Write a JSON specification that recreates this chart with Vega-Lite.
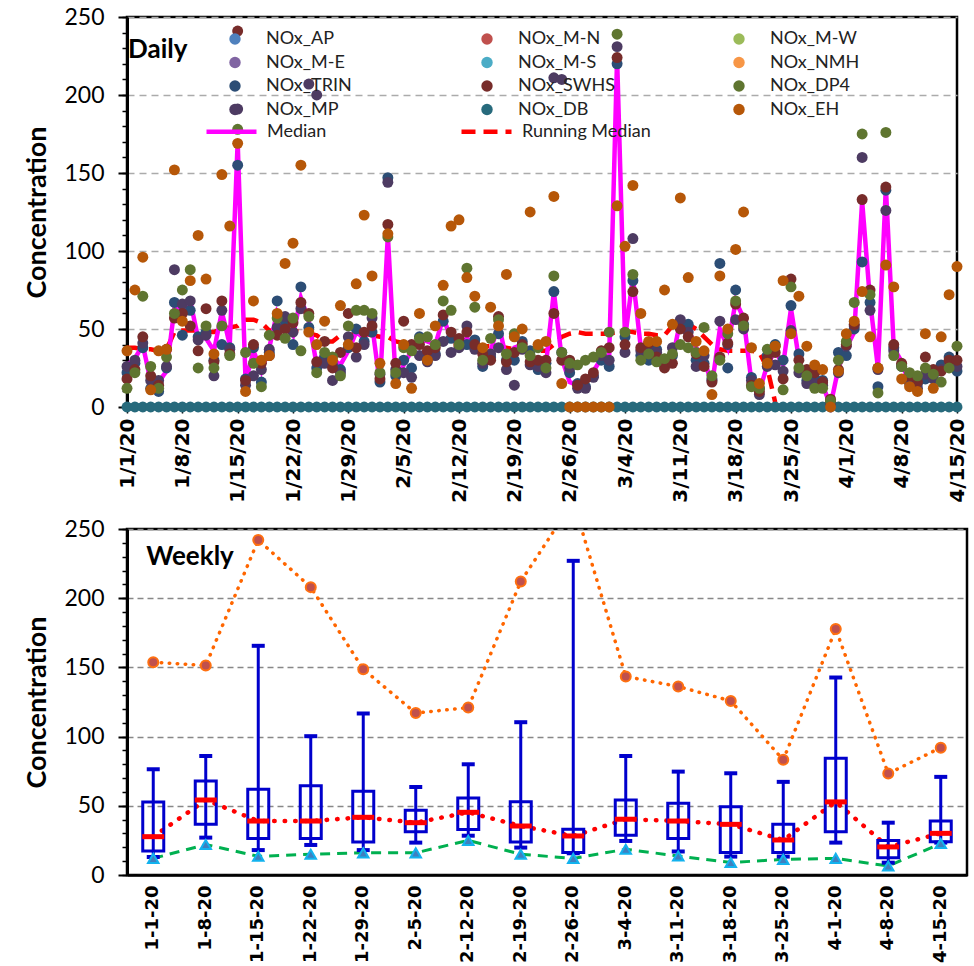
{
"$schema":"https://vega.github.io/schema/vega-lite/v6.json",
"background":"white",
"padding":{"left":22,"top":4,"right":10,"bottom":0},
"spacing":12,
"config":{
 "view":{"stroke":"black","strokeWidth":2.5},
 "axis":{"labelFont":"Lato","titleFont":"Lato","labelColor":"black","titleColor":"black","domainColor":"black","tickColor":"black"}
},
"datasets":{
"pts":[
{"d":"2020/01/01","s":"NOx_DB","v":0},{"d":"2020/01/02","s":"NOx_DB","v":0},{"d":"2020/01/03","s":"NOx_DB","v":0},{"d":"2020/01/04","s":"NOx_DB","v":0},{"d":"2020/01/05","s":"NOx_DB","v":0},{"d":"2020/01/06","s":"NOx_DB","v":0},{"d":"2020/01/07","s":"NOx_DB","v":0},{"d":"2020/01/08","s":"NOx_DB","v":0},{"d":"2020/01/09","s":"NOx_DB","v":0},{"d":"2020/01/10","s":"NOx_DB","v":0},{"d":"2020/01/11","s":"NOx_DB","v":0},{"d":"2020/01/12","s":"NOx_DB","v":0},{"d":"2020/01/13","s":"NOx_DB","v":0},{"d":"2020/01/14","s":"NOx_DB","v":0},{"d":"2020/01/15","s":"NOx_DB","v":0},{"d":"2020/01/16","s":"NOx_DB","v":0},{"d":"2020/01/17","s":"NOx_DB","v":0},{"d":"2020/01/18","s":"NOx_DB","v":0},{"d":"2020/01/19","s":"NOx_DB","v":0},{"d":"2020/01/20","s":"NOx_DB","v":0},{"d":"2020/01/21","s":"NOx_DB","v":0},{"d":"2020/01/22","s":"NOx_DB","v":0},{"d":"2020/01/23","s":"NOx_DB","v":0},{"d":"2020/01/24","s":"NOx_DB","v":0},{"d":"2020/01/25","s":"NOx_DB","v":0},{"d":"2020/01/26","s":"NOx_DB","v":0},{"d":"2020/01/27","s":"NOx_DB","v":0},{"d":"2020/01/28","s":"NOx_DB","v":0},{"d":"2020/01/29","s":"NOx_DB","v":0},{"d":"2020/01/30","s":"NOx_DB","v":0},{"d":"2020/01/31","s":"NOx_DB","v":0},
{"d":"2020/02/01","s":"NOx_DB","v":0},{"d":"2020/02/02","s":"NOx_DB","v":0},{"d":"2020/02/03","s":"NOx_DB","v":0},{"d":"2020/02/04","s":"NOx_DB","v":0},{"d":"2020/02/05","s":"NOx_DB","v":0},{"d":"2020/02/06","s":"NOx_DB","v":0},{"d":"2020/02/07","s":"NOx_DB","v":0},{"d":"2020/02/08","s":"NOx_DB","v":0},{"d":"2020/02/09","s":"NOx_DB","v":0},{"d":"2020/02/10","s":"NOx_DB","v":0},{"d":"2020/02/11","s":"NOx_DB","v":0},{"d":"2020/02/12","s":"NOx_DB","v":0},{"d":"2020/02/13","s":"NOx_DB","v":0},{"d":"2020/02/14","s":"NOx_DB","v":0},{"d":"2020/02/15","s":"NOx_DB","v":0},{"d":"2020/02/16","s":"NOx_DB","v":0},{"d":"2020/02/17","s":"NOx_DB","v":0},{"d":"2020/02/18","s":"NOx_DB","v":0},{"d":"2020/02/19","s":"NOx_DB","v":0},{"d":"2020/02/20","s":"NOx_DB","v":0},{"d":"2020/02/21","s":"NOx_DB","v":0},{"d":"2020/02/22","s":"NOx_DB","v":0},{"d":"2020/02/23","s":"NOx_DB","v":0},{"d":"2020/02/24","s":"NOx_DB","v":0},{"d":"2020/02/25","s":"NOx_DB","v":0},{"d":"2020/02/26","s":"NOx_DB","v":0},{"d":"2020/02/27","s":"NOx_DB","v":0},{"d":"2020/02/28","s":"NOx_DB","v":0},{"d":"2020/02/29","s":"NOx_DB","v":0},
{"d":"2020/03/01","s":"NOx_DB","v":0},{"d":"2020/03/02","s":"NOx_DB","v":0},{"d":"2020/03/03","s":"NOx_DB","v":0},{"d":"2020/03/04","s":"NOx_DB","v":0},{"d":"2020/03/05","s":"NOx_DB","v":0},{"d":"2020/03/06","s":"NOx_DB","v":0},{"d":"2020/03/07","s":"NOx_DB","v":0},{"d":"2020/03/08","s":"NOx_DB","v":0},{"d":"2020/03/09","s":"NOx_DB","v":0},{"d":"2020/03/10","s":"NOx_DB","v":0},{"d":"2020/03/11","s":"NOx_DB","v":0},{"d":"2020/03/12","s":"NOx_DB","v":0},{"d":"2020/03/13","s":"NOx_DB","v":0},{"d":"2020/03/14","s":"NOx_DB","v":0},{"d":"2020/03/15","s":"NOx_DB","v":0},{"d":"2020/03/16","s":"NOx_DB","v":0},{"d":"2020/03/17","s":"NOx_DB","v":0},{"d":"2020/03/18","s":"NOx_DB","v":0},{"d":"2020/03/19","s":"NOx_DB","v":0},{"d":"2020/03/20","s":"NOx_DB","v":0},{"d":"2020/03/21","s":"NOx_DB","v":0},{"d":"2020/03/22","s":"NOx_DB","v":0},{"d":"2020/03/23","s":"NOx_DB","v":0},{"d":"2020/03/24","s":"NOx_DB","v":0},{"d":"2020/03/25","s":"NOx_DB","v":0},{"d":"2020/03/26","s":"NOx_DB","v":0},{"d":"2020/03/27","s":"NOx_DB","v":0},{"d":"2020/03/28","s":"NOx_DB","v":0},{"d":"2020/03/29","s":"NOx_DB","v":0},{"d":"2020/03/30","s":"NOx_DB","v":0},{"d":"2020/03/31","s":"NOx_DB","v":0},
{"d":"2020/04/01","s":"NOx_DB","v":0},{"d":"2020/04/02","s":"NOx_DB","v":0},{"d":"2020/04/03","s":"NOx_DB","v":0},{"d":"2020/04/04","s":"NOx_DB","v":0},{"d":"2020/04/05","s":"NOx_DB","v":0},{"d":"2020/04/06","s":"NOx_DB","v":0},{"d":"2020/04/07","s":"NOx_DB","v":0},{"d":"2020/04/08","s":"NOx_DB","v":0},{"d":"2020/04/09","s":"NOx_DB","v":0},{"d":"2020/04/10","s":"NOx_DB","v":0},{"d":"2020/04/11","s":"NOx_DB","v":0},{"d":"2020/04/12","s":"NOx_DB","v":0},{"d":"2020/04/13","s":"NOx_DB","v":0},{"d":"2020/04/14","s":"NOx_DB","v":0},{"d":"2020/04/15","s":"NOx_DB","v":0},

{"d":"2020/01/01","s":"NOx_TRIN","v":22},{"d":"2020/01/02","s":"NOx_TRIN","v":28},{"d":"2020/01/03","s":"NOx_TRIN","v":38},{"d":"2020/01/04","s":"NOx_TRIN","v":12},{"d":"2020/01/05","s":"NOx_TRIN","v":10},{"d":"2020/01/06","s":"NOx_TRIN","v":25},{"d":"2020/01/07","s":"NOx_TRIN","v":67},{"d":"2020/01/08","s":"NOx_TRIN","v":46},{"d":"2020/01/09","s":"NOx_TRIN","v":62},{"d":"2020/01/10","s":"NOx_TRIN","v":45},{"d":"2020/01/11","s":"NOx_TRIN","v":48},{"d":"2020/01/12","s":"NOx_TRIN","v":30},{"d":"2020/01/13","s":"NOx_TRIN","v":40},{"d":"2020/01/14","s":"NOx_TRIN","v":38},{"d":"2020/01/15","s":"NOx_TRIN","v":155},{"d":"2020/01/16","s":"NOx_TRIN","v":18},{"d":"2020/01/17","s":"NOx_TRIN","v":38},{"d":"2020/01/18","s":"NOx_TRIN","v":16},{"d":"2020/01/19","s":"NOx_TRIN","v":35},{"d":"2020/01/20","s":"NOx_TRIN","v":68},{"d":"2020/01/21","s":"NOx_TRIN","v":55},{"d":"2020/01/22","s":"NOx_TRIN","v":40},{"d":"2020/01/23","s":"NOx_TRIN","v":77},{"d":"2020/01/24","s":"NOx_TRIN","v":51},{"d":"2020/01/25","s":"NOx_TRIN","v":25},{"d":"2020/01/26","s":"NOx_TRIN","v":32},{"d":"2020/01/27","s":"NOx_TRIN","v":27},{"d":"2020/01/28","s":"NOx_TRIN","v":24},{"d":"2020/01/29","s":"NOx_TRIN","v":38},{"d":"2020/01/30","s":"NOx_TRIN","v":50},{"d":"2020/01/31","s":"NOx_TRIN","v":42},
{"d":"2020/02/01","s":"NOx_TRIN","v":48},{"d":"2020/02/02","s":"NOx_TRIN","v":16},{"d":"2020/02/03","s":"NOx_TRIN","v":147},{"d":"2020/02/04","s":"NOx_TRIN","v":20},{"d":"2020/02/05","s":"NOx_TRIN","v":30},{"d":"2020/02/06","s":"NOx_TRIN","v":25},{"d":"2020/02/07","s":"NOx_TRIN","v":45},{"d":"2020/02/08","s":"NOx_TRIN","v":35},{"d":"2020/02/09","s":"NOx_TRIN","v":34},{"d":"2020/02/10","s":"NOx_TRIN","v":55},{"d":"2020/02/11","s":"NOx_TRIN","v":44},{"d":"2020/02/12","s":"NOx_TRIN","v":42},{"d":"2020/02/13","s":"NOx_TRIN","v":40},{"d":"2020/02/14","s":"NOx_TRIN","v":43},{"d":"2020/02/15","s":"NOx_TRIN","v":26},{"d":"2020/02/16","s":"NOx_TRIN","v":32},{"d":"2020/02/17","s":"NOx_TRIN","v":47},{"d":"2020/02/18","s":"NOx_TRIN","v":30},{"d":"2020/02/19","s":"NOx_TRIN","v":30},{"d":"2020/02/20","s":"NOx_TRIN","v":42},{"d":"2020/02/21","s":"NOx_TRIN","v":36},{"d":"2020/02/22","s":"NOx_TRIN","v":24},{"d":"2020/02/23","s":"NOx_TRIN","v":28},{"d":"2020/02/24","s":"NOx_TRIN","v":74},{"d":"2020/02/25","s":"NOx_TRIN","v":35},{"d":"2020/02/26","s":"NOx_TRIN","v":22},{"d":"2020/02/27","s":"NOx_TRIN","v":15},{"d":"2020/02/28","s":"NOx_TRIN","v":13},{"d":"2020/02/29","s":"NOx_TRIN","v":20},
{"d":"2020/03/01","s":"NOx_TRIN","v":30},{"d":"2020/03/02","s":"NOx_TRIN","v":26},{"d":"2020/03/03","s":"NOx_TRIN","v":220},{"d":"2020/03/04","s":"NOx_TRIN","v":45},{"d":"2020/03/05","s":"NOx_TRIN","v":81},{"d":"2020/03/06","s":"NOx_TRIN","v":33},{"d":"2020/03/07","s":"NOx_TRIN","v":30},{"d":"2020/03/08","s":"NOx_TRIN","v":37},{"d":"2020/03/09","s":"NOx_TRIN","v":30},{"d":"2020/03/10","s":"NOx_TRIN","v":33},{"d":"2020/03/11","s":"NOx_TRIN","v":52},{"d":"2020/03/12","s":"NOx_TRIN","v":53},{"d":"2020/03/13","s":"NOx_TRIN","v":30},{"d":"2020/03/14","s":"NOx_TRIN","v":28},{"d":"2020/03/15","s":"NOx_TRIN","v":18},{"d":"2020/03/16","s":"NOx_TRIN","v":92},{"d":"2020/03/17","s":"NOx_TRIN","v":25},{"d":"2020/03/18","s":"NOx_TRIN","v":75},{"d":"2020/03/19","s":"NOx_TRIN","v":53},{"d":"2020/03/20","s":"NOx_TRIN","v":19},{"d":"2020/03/21","s":"NOx_TRIN","v":12},{"d":"2020/03/22","s":"NOx_TRIN","v":33},{"d":"2020/03/23","s":"NOx_TRIN","v":40},{"d":"2020/03/24","s":"NOx_TRIN","v":30},{"d":"2020/03/25","s":"NOx_TRIN","v":65},{"d":"2020/03/26","s":"NOx_TRIN","v":34},{"d":"2020/03/27","s":"NOx_TRIN","v":17},{"d":"2020/03/28","s":"NOx_TRIN","v":18},{"d":"2020/03/29","s":"NOx_TRIN","v":17},{"d":"2020/03/30","s":"NOx_TRIN","v":3},{"d":"2020/03/31","s":"NOx_TRIN","v":35},
{"d":"2020/04/01","s":"NOx_TRIN","v":33},{"d":"2020/04/02","s":"NOx_TRIN","v":50},{"d":"2020/04/03","s":"NOx_TRIN","v":93},{"d":"2020/04/04","s":"NOx_TRIN","v":67},{"d":"2020/04/05","s":"NOx_TRIN","v":13},{"d":"2020/04/06","s":"NOx_TRIN","v":139},{"d":"2020/04/07","s":"NOx_TRIN","v":38},{"d":"2020/04/08","s":"NOx_TRIN","v":26},{"d":"2020/04/09","s":"NOx_TRIN","v":17},{"d":"2020/04/10","s":"NOx_TRIN","v":15},{"d":"2020/04/11","s":"NOx_TRIN","v":18},{"d":"2020/04/12","s":"NOx_TRIN","v":20},{"d":"2020/04/13","s":"NOx_TRIN","v":27},{"d":"2020/04/14","s":"NOx_TRIN","v":32},{"d":"2020/04/15","s":"NOx_TRIN","v":23},

{"d":"2020/01/01","s":"NOx_MP","v":26},{"d":"2020/01/02","s":"NOx_MP","v":30},{"d":"2020/01/03","s":"NOx_MP","v":41},{"d":"2020/01/04","s":"NOx_MP","v":17},{"d":"2020/01/05","s":"NOx_MP","v":17},{"d":"2020/01/06","s":"NOx_MP","v":26},{"d":"2020/01/07","s":"NOx_MP","v":88},{"d":"2020/01/08","s":"NOx_MP","v":66},{"d":"2020/01/09","s":"NOx_MP","v":68},{"d":"2020/01/10","s":"NOx_MP","v":43},{"d":"2020/01/11","s":"NOx_MP","v":46},{"d":"2020/01/12","s":"NOx_MP","v":20},{"d":"2020/01/13","s":"NOx_MP","v":62},{"d":"2020/01/14","s":"NOx_MP","v":37},{"d":"2020/01/15","s":"NOx_MP","v":191},{"d":"2020/01/16","s":"NOx_MP","v":14},{"d":"2020/01/17","s":"NOx_MP","v":20},{"d":"2020/01/18","s":"NOx_MP","v":24},{"d":"2020/01/19","s":"NOx_MP","v":37},{"d":"2020/01/20","s":"NOx_MP","v":51},{"d":"2020/01/21","s":"NOx_MP","v":58},{"d":"2020/01/22","s":"NOx_MP","v":48},{"d":"2020/01/23","s":"NOx_MP","v":63},{"d":"2020/01/24","s":"NOx_MP","v":207},{"d":"2020/01/25","s":"NOx_MP","v":200},{"d":"2020/01/26","s":"NOx_MP","v":28},{"d":"2020/01/27","s":"NOx_MP","v":17},{"d":"2020/01/28","s":"NOx_MP","v":22},{"d":"2020/01/29","s":"NOx_MP","v":45},{"d":"2020/01/30","s":"NOx_MP","v":32},{"d":"2020/01/31","s":"NOx_MP","v":40},
{"d":"2020/02/01","s":"NOx_MP","v":57},{"d":"2020/02/02","s":"NOx_MP","v":21},{"d":"2020/02/03","s":"NOx_MP","v":144},{"d":"2020/02/04","s":"NOx_MP","v":24},{"d":"2020/02/05","s":"NOx_MP","v":22},{"d":"2020/02/06","s":"NOx_MP","v":19},{"d":"2020/02/07","s":"NOx_MP","v":33},{"d":"2020/02/08","s":"NOx_MP","v":29},{"d":"2020/02/09","s":"NOx_MP","v":33},{"d":"2020/02/10","s":"NOx_MP","v":42},{"d":"2020/02/11","s":"NOx_MP","v":35},{"d":"2020/02/12","s":"NOx_MP","v":38},{"d":"2020/02/13","s":"NOx_MP","v":52},{"d":"2020/02/14","s":"NOx_MP","v":37},{"d":"2020/02/15","s":"NOx_MP","v":28},{"d":"2020/02/16","s":"NOx_MP","v":34},{"d":"2020/02/17","s":"NOx_MP","v":38},{"d":"2020/02/18","s":"NOx_MP","v":24},{"d":"2020/02/19","s":"NOx_MP","v":14},{"d":"2020/02/20","s":"NOx_MP","v":37},{"d":"2020/02/21","s":"NOx_MP","v":27},{"d":"2020/02/22","s":"NOx_MP","v":26},{"d":"2020/02/23","s":"NOx_MP","v":22},{"d":"2020/02/24","s":"NOx_MP","v":211},{"d":"2020/02/25","s":"NOx_MP","v":210},{"d":"2020/02/26","s":"NOx_MP","v":25},{"d":"2020/02/27","s":"NOx_MP","v":12},{"d":"2020/02/28","s":"NOx_MP","v":12},{"d":"2020/02/29","s":"NOx_MP","v":19},
{"d":"2020/03/01","s":"NOx_MP","v":33},{"d":"2020/03/02","s":"NOx_MP","v":30},{"d":"2020/03/03","s":"NOx_MP","v":231},{"d":"2020/03/04","s":"NOx_MP","v":35},{"d":"2020/03/05","s":"NOx_MP","v":108},{"d":"2020/03/06","s":"NOx_MP","v":36},{"d":"2020/03/07","s":"NOx_MP","v":40},{"d":"2020/03/08","s":"NOx_MP","v":35},{"d":"2020/03/09","s":"NOx_MP","v":27},{"d":"2020/03/10","s":"NOx_MP","v":38},{"d":"2020/03/11","s":"NOx_MP","v":56},{"d":"2020/03/12","s":"NOx_MP","v":48},{"d":"2020/03/13","s":"NOx_MP","v":26},{"d":"2020/03/14","s":"NOx_MP","v":33},{"d":"2020/03/15","s":"NOx_MP","v":17},{"d":"2020/03/16","s":"NOx_MP","v":55},{"d":"2020/03/17","s":"NOx_MP","v":40},{"d":"2020/03/18","s":"NOx_MP","v":56},{"d":"2020/03/19","s":"NOx_MP","v":50},{"d":"2020/03/20","s":"NOx_MP","v":17},{"d":"2020/03/21","s":"NOx_MP","v":8},{"d":"2020/03/22","s":"NOx_MP","v":26},{"d":"2020/03/23","s":"NOx_MP","v":27},{"d":"2020/03/24","s":"NOx_MP","v":23},{"d":"2020/03/25","s":"NOx_MP","v":49},{"d":"2020/03/26","s":"NOx_MP","v":22},{"d":"2020/03/27","s":"NOx_MP","v":15},{"d":"2020/03/28","s":"NOx_MP","v":15},{"d":"2020/03/29","s":"NOx_MP","v":14},{"d":"2020/03/30","s":"NOx_MP","v":2},{"d":"2020/03/31","s":"NOx_MP","v":22},
{"d":"2020/04/01","s":"NOx_MP","v":39},{"d":"2020/04/02","s":"NOx_MP","v":52},{"d":"2020/04/03","s":"NOx_MP","v":160},{"d":"2020/04/04","s":"NOx_MP","v":62},{"d":"2020/04/05","s":"NOx_MP","v":24},{"d":"2020/04/06","s":"NOx_MP","v":126},{"d":"2020/04/07","s":"NOx_MP","v":36},{"d":"2020/04/08","s":"NOx_MP","v":27},{"d":"2020/04/09","s":"NOx_MP","v":15},{"d":"2020/04/10","s":"NOx_MP","v":12},{"d":"2020/04/11","s":"NOx_MP","v":21},{"d":"2020/04/12","s":"NOx_MP","v":18},{"d":"2020/04/13","s":"NOx_MP","v":24},{"d":"2020/04/14","s":"NOx_MP","v":28},{"d":"2020/04/15","s":"NOx_MP","v":26},

{"d":"2020/01/01","s":"NOx_SWHS","v":18},{"d":"2020/01/02","s":"NOx_SWHS","v":24},{"d":"2020/01/03","s":"NOx_SWHS","v":45},{"d":"2020/01/04","s":"NOx_SWHS","v":20},{"d":"2020/01/05","s":"NOx_SWHS","v":14},{"d":"2020/01/06","s":"NOx_SWHS","v":37},{"d":"2020/01/07","s":"NOx_SWHS","v":57},{"d":"2020/01/08","s":"NOx_SWHS","v":60},{"d":"2020/01/09","s":"NOx_SWHS","v":52},{"d":"2020/01/10","s":"NOx_SWHS","v":36},{"d":"2020/01/11","s":"NOx_SWHS","v":63},{"d":"2020/01/12","s":"NOx_SWHS","v":29},{"d":"2020/01/13","s":"NOx_SWHS","v":68},{"d":"2020/01/14","s":"NOx_SWHS","v":34},{"d":"2020/01/15","s":"NOx_SWHS","v":241},{"d":"2020/01/16","s":"NOx_SWHS","v":17},{"d":"2020/01/17","s":"NOx_SWHS","v":40},{"d":"2020/01/18","s":"NOx_SWHS","v":28},{"d":"2020/01/19","s":"NOx_SWHS","v":33},{"d":"2020/01/20","s":"NOx_SWHS","v":46},{"d":"2020/01/21","s":"NOx_SWHS","v":50},{"d":"2020/01/22","s":"NOx_SWHS","v":54},{"d":"2020/01/23","s":"NOx_SWHS","v":67},{"d":"2020/01/24","s":"NOx_SWHS","v":60},{"d":"2020/01/25","s":"NOx_SWHS","v":29},{"d":"2020/01/26","s":"NOx_SWHS","v":42},{"d":"2020/01/27","s":"NOx_SWHS","v":25},{"d":"2020/01/28","s":"NOx_SWHS","v":35},{"d":"2020/01/29","s":"NOx_SWHS","v":60},{"d":"2020/01/30","s":"NOx_SWHS","v":38},{"d":"2020/01/31","s":"NOx_SWHS","v":48},
{"d":"2020/02/01","s":"NOx_SWHS","v":52},{"d":"2020/02/02","s":"NOx_SWHS","v":18},{"d":"2020/02/03","s":"NOx_SWHS","v":117},{"d":"2020/02/04","s":"NOx_SWHS","v":28},{"d":"2020/02/05","s":"NOx_SWHS","v":55},{"d":"2020/02/06","s":"NOx_SWHS","v":40},{"d":"2020/02/07","s":"NOx_SWHS","v":40},{"d":"2020/02/08","s":"NOx_SWHS","v":36},{"d":"2020/02/09","s":"NOx_SWHS","v":38},{"d":"2020/02/10","s":"NOx_SWHS","v":59},{"d":"2020/02/11","s":"NOx_SWHS","v":48},{"d":"2020/02/12","s":"NOx_SWHS","v":44},{"d":"2020/02/13","s":"NOx_SWHS","v":48},{"d":"2020/02/14","s":"NOx_SWHS","v":40},{"d":"2020/02/15","s":"NOx_SWHS","v":34},{"d":"2020/02/16","s":"NOx_SWHS","v":30},{"d":"2020/02/17","s":"NOx_SWHS","v":58},{"d":"2020/02/18","s":"NOx_SWHS","v":29},{"d":"2020/02/19","s":"NOx_SWHS","v":35},{"d":"2020/02/20","s":"NOx_SWHS","v":40},{"d":"2020/02/21","s":"NOx_SWHS","v":29},{"d":"2020/02/22","s":"NOx_SWHS","v":30},{"d":"2020/02/23","s":"NOx_SWHS","v":30},{"d":"2020/02/24","s":"NOx_SWHS","v":60},{"d":"2020/02/25","s":"NOx_SWHS","v":30},{"d":"2020/02/26","s":"NOx_SWHS","v":30},{"d":"2020/02/27","s":"NOx_SWHS","v":14},{"d":"2020/02/28","s":"NOx_SWHS","v":18},{"d":"2020/02/29","s":"NOx_SWHS","v":22},
{"d":"2020/03/01","s":"NOx_SWHS","v":36},{"d":"2020/03/02","s":"NOx_SWHS","v":38},{"d":"2020/03/03","s":"NOx_SWHS","v":224},{"d":"2020/03/04","s":"NOx_SWHS","v":40},{"d":"2020/03/05","s":"NOx_SWHS","v":74},{"d":"2020/03/06","s":"NOx_SWHS","v":38},{"d":"2020/03/07","s":"NOx_SWHS","v":41},{"d":"2020/03/08","s":"NOx_SWHS","v":32},{"d":"2020/03/09","s":"NOx_SWHS","v":25},{"d":"2020/03/10","s":"NOx_SWHS","v":28},{"d":"2020/03/11","s":"NOx_SWHS","v":50},{"d":"2020/03/12","s":"NOx_SWHS","v":45},{"d":"2020/03/13","s":"NOx_SWHS","v":34},{"d":"2020/03/14","s":"NOx_SWHS","v":26},{"d":"2020/03/15","s":"NOx_SWHS","v":16},{"d":"2020/03/16","s":"NOx_SWHS","v":32},{"d":"2020/03/17","s":"NOx_SWHS","v":41},{"d":"2020/03/18","s":"NOx_SWHS","v":66},{"d":"2020/03/19","s":"NOx_SWHS","v":57},{"d":"2020/03/20","s":"NOx_SWHS","v":14},{"d":"2020/03/21","s":"NOx_SWHS","v":10},{"d":"2020/03/22","s":"NOx_SWHS","v":31},{"d":"2020/03/23","s":"NOx_SWHS","v":35},{"d":"2020/03/24","s":"NOx_SWHS","v":18},{"d":"2020/03/25","s":"NOx_SWHS","v":82},{"d":"2020/03/26","s":"NOx_SWHS","v":30},{"d":"2020/03/27","s":"NOx_SWHS","v":24},{"d":"2020/03/28","s":"NOx_SWHS","v":22},{"d":"2020/03/29","s":"NOx_SWHS","v":16},{"d":"2020/03/30","s":"NOx_SWHS","v":5},{"d":"2020/03/31","s":"NOx_SWHS","v":24},
{"d":"2020/04/01","s":"NOx_SWHS","v":40},{"d":"2020/04/02","s":"NOx_SWHS","v":53},{"d":"2020/04/03","s":"NOx_SWHS","v":133},{"d":"2020/04/04","s":"NOx_SWHS","v":75},{"d":"2020/04/05","s":"NOx_SWHS","v":25},{"d":"2020/04/06","s":"NOx_SWHS","v":141},{"d":"2020/04/07","s":"NOx_SWHS","v":40},{"d":"2020/04/08","s":"NOx_SWHS","v":28},{"d":"2020/04/09","s":"NOx_SWHS","v":20},{"d":"2020/04/10","s":"NOx_SWHS","v":16},{"d":"2020/04/11","s":"NOx_SWHS","v":32},{"d":"2020/04/12","s":"NOx_SWHS","v":24},{"d":"2020/04/13","s":"NOx_SWHS","v":23},{"d":"2020/04/14","s":"NOx_SWHS","v":30},{"d":"2020/04/15","s":"NOx_SWHS","v":30},

{"d":"2020/01/01","s":"NOx_DP4","v":12},{"d":"2020/01/02","s":"NOx_DP4","v":22},{"d":"2020/01/03","s":"NOx_DP4","v":71},{"d":"2020/01/04","s":"NOx_DP4","v":26},{"d":"2020/01/05","s":"NOx_DP4","v":12},{"d":"2020/01/06","s":"NOx_DP4","v":32},{"d":"2020/01/07","s":"NOx_DP4","v":60},{"d":"2020/01/08","s":"NOx_DP4","v":75},{"d":"2020/01/09","s":"NOx_DP4","v":88},{"d":"2020/01/10","s":"NOx_DP4","v":25},{"d":"2020/01/11","s":"NOx_DP4","v":52},{"d":"2020/01/12","s":"NOx_DP4","v":25},{"d":"2020/01/13","s":"NOx_DP4","v":52},{"d":"2020/01/14","s":"NOx_DP4","v":33},{"d":"2020/01/15","s":"NOx_DP4","v":178},{"d":"2020/01/16","s":"NOx_DP4","v":35},{"d":"2020/01/17","s":"NOx_DP4","v":28},{"d":"2020/01/18","s":"NOx_DP4","v":13},{"d":"2020/01/19","s":"NOx_DP4","v":46},{"d":"2020/01/20","s":"NOx_DP4","v":57},{"d":"2020/01/21","s":"NOx_DP4","v":44},{"d":"2020/01/22","s":"NOx_DP4","v":57},{"d":"2020/01/23","s":"NOx_DP4","v":36},{"d":"2020/01/24","s":"NOx_DP4","v":58},{"d":"2020/01/25","s":"NOx_DP4","v":22},{"d":"2020/01/26","s":"NOx_DP4","v":35},{"d":"2020/01/27","s":"NOx_DP4","v":32},{"d":"2020/01/28","s":"NOx_DP4","v":20},{"d":"2020/01/29","s":"NOx_DP4","v":52},{"d":"2020/01/30","s":"NOx_DP4","v":62},{"d":"2020/01/31","s":"NOx_DP4","v":62},
{"d":"2020/02/01","s":"NOx_DP4","v":60},{"d":"2020/02/02","s":"NOx_DP4","v":22},{"d":"2020/02/03","s":"NOx_DP4","v":109},{"d":"2020/02/04","s":"NOx_DP4","v":22},{"d":"2020/02/05","s":"NOx_DP4","v":38},{"d":"2020/02/06","s":"NOx_DP4","v":36},{"d":"2020/02/07","s":"NOx_DP4","v":44},{"d":"2020/02/08","s":"NOx_DP4","v":45},{"d":"2020/02/09","s":"NOx_DP4","v":40},{"d":"2020/02/10","s":"NOx_DP4","v":68},{"d":"2020/02/11","s":"NOx_DP4","v":62},{"d":"2020/02/12","s":"NOx_DP4","v":40},{"d":"2020/02/13","s":"NOx_DP4","v":89},{"d":"2020/02/14","s":"NOx_DP4","v":64},{"d":"2020/02/15","s":"NOx_DP4","v":30},{"d":"2020/02/16","s":"NOx_DP4","v":44},{"d":"2020/02/17","s":"NOx_DP4","v":56},{"d":"2020/02/18","s":"NOx_DP4","v":34},{"d":"2020/02/19","s":"NOx_DP4","v":47},{"d":"2020/02/20","s":"NOx_DP4","v":38},{"d":"2020/02/21","s":"NOx_DP4","v":33},{"d":"2020/02/22","s":"NOx_DP4","v":38},{"d":"2020/02/23","s":"NOx_DP4","v":25},{"d":"2020/02/24","s":"NOx_DP4","v":84},{"d":"2020/02/25","s":"NOx_DP4","v":35},{"d":"2020/02/26","s":"NOx_DP4","v":28},{"d":"2020/02/27","s":"NOx_DP4","v":27},{"d":"2020/02/28","s":"NOx_DP4","v":30},{"d":"2020/02/29","s":"NOx_DP4","v":32},
{"d":"2020/03/01","s":"NOx_DP4","v":35},{"d":"2020/03/02","s":"NOx_DP4","v":48},{"d":"2020/03/03","s":"NOx_DP4","v":239},{"d":"2020/03/04","s":"NOx_DP4","v":48},{"d":"2020/03/05","s":"NOx_DP4","v":85},{"d":"2020/03/06","s":"NOx_DP4","v":30},{"d":"2020/03/07","s":"NOx_DP4","v":34},{"d":"2020/03/08","s":"NOx_DP4","v":29},{"d":"2020/03/09","s":"NOx_DP4","v":31},{"d":"2020/03/10","s":"NOx_DP4","v":34},{"d":"2020/03/11","s":"NOx_DP4","v":40},{"d":"2020/03/12","s":"NOx_DP4","v":38},{"d":"2020/03/13","s":"NOx_DP4","v":35},{"d":"2020/03/14","s":"NOx_DP4","v":51},{"d":"2020/03/15","s":"NOx_DP4","v":20},{"d":"2020/03/16","s":"NOx_DP4","v":30},{"d":"2020/03/17","s":"NOx_DP4","v":47},{"d":"2020/03/18","s":"NOx_DP4","v":68},{"d":"2020/03/19","s":"NOx_DP4","v":52},{"d":"2020/03/20","s":"NOx_DP4","v":13},{"d":"2020/03/21","s":"NOx_DP4","v":12},{"d":"2020/03/22","s":"NOx_DP4","v":37},{"d":"2020/03/23","s":"NOx_DP4","v":39},{"d":"2020/03/24","s":"NOx_DP4","v":11},{"d":"2020/03/25","s":"NOx_DP4","v":77},{"d":"2020/03/26","s":"NOx_DP4","v":25},{"d":"2020/03/27","s":"NOx_DP4","v":20},{"d":"2020/03/28","s":"NOx_DP4","v":12},{"d":"2020/03/29","s":"NOx_DP4","v":12},{"d":"2020/03/30","s":"NOx_DP4","v":4},{"d":"2020/03/31","s":"NOx_DP4","v":30},
{"d":"2020/04/01","s":"NOx_DP4","v":42},{"d":"2020/04/02","s":"NOx_DP4","v":67},{"d":"2020/04/03","s":"NOx_DP4","v":175},{"d":"2020/04/04","s":"NOx_DP4","v":72},{"d":"2020/04/05","s":"NOx_DP4","v":9},{"d":"2020/04/06","s":"NOx_DP4","v":176},{"d":"2020/04/07","s":"NOx_DP4","v":33},{"d":"2020/04/08","s":"NOx_DP4","v":26},{"d":"2020/04/09","s":"NOx_DP4","v":22},{"d":"2020/04/10","s":"NOx_DP4","v":20},{"d":"2020/04/11","s":"NOx_DP4","v":25},{"d":"2020/04/12","s":"NOx_DP4","v":21},{"d":"2020/04/13","s":"NOx_DP4","v":16},{"d":"2020/04/14","s":"NOx_DP4","v":25},{"d":"2020/04/15","s":"NOx_DP4","v":39},

{"d":"2020/01/01","s":"NOx_EH","v":36},{"d":"2020/01/02","s":"NOx_EH","v":75},{"d":"2020/01/03","s":"NOx_EH","v":96},{"d":"2020/01/04","s":"NOx_EH","v":11},{"d":"2020/01/05","s":"NOx_EH","v":36},{"d":"2020/01/06","s":"NOx_EH","v":37},{"d":"2020/01/07","s":"NOx_EH","v":152},{"d":"2020/01/08","s":"NOx_EH","v":55},{"d":"2020/01/09","s":"NOx_EH","v":81},{"d":"2020/01/10","s":"NOx_EH","v":110},{"d":"2020/01/11","s":"NOx_EH","v":82},{"d":"2020/01/12","s":"NOx_EH","v":34},{"d":"2020/01/13","s":"NOx_EH","v":149},{"d":"2020/01/14","s":"NOx_EH","v":116},{"d":"2020/01/15","s":"NOx_EH","v":169},{"d":"2020/01/16","s":"NOx_EH","v":10},{"d":"2020/01/17","s":"NOx_EH","v":68},{"d":"2020/01/18","s":"NOx_EH","v":30},{"d":"2020/01/19","s":"NOx_EH","v":33},{"d":"2020/01/20","s":"NOx_EH","v":60},{"d":"2020/01/21","s":"NOx_EH","v":92},{"d":"2020/01/22","s":"NOx_EH","v":105},{"d":"2020/01/23","s":"NOx_EH","v":155},{"d":"2020/01/24","s":"NOx_EH","v":48},{"d":"2020/01/25","s":"NOx_EH","v":40},{"d":"2020/01/26","s":"NOx_EH","v":55},{"d":"2020/01/27","s":"NOx_EH","v":30},{"d":"2020/01/28","s":"NOx_EH","v":65},{"d":"2020/01/29","s":"NOx_EH","v":40},{"d":"2020/01/30","s":"NOx_EH","v":79},{"d":"2020/01/31","s":"NOx_EH","v":123},
{"d":"2020/02/01","s":"NOx_EH","v":84},{"d":"2020/02/02","s":"NOx_EH","v":28},{"d":"2020/02/03","s":"NOx_EH","v":111},{"d":"2020/02/04","s":"NOx_EH","v":15},{"d":"2020/02/05","s":"NOx_EH","v":40},{"d":"2020/02/06","s":"NOx_EH","v":12},{"d":"2020/02/07","s":"NOx_EH","v":60},{"d":"2020/02/08","s":"NOx_EH","v":30},{"d":"2020/02/09","s":"NOx_EH","v":52},{"d":"2020/02/10","s":"NOx_EH","v":78},{"d":"2020/02/11","s":"NOx_EH","v":116},{"d":"2020/02/12","s":"NOx_EH","v":120},{"d":"2020/02/13","s":"NOx_EH","v":83},{"d":"2020/02/14","s":"NOx_EH","v":71},{"d":"2020/02/15","s":"NOx_EH","v":38},{"d":"2020/02/16","s":"NOx_EH","v":64},{"d":"2020/02/17","s":"NOx_EH","v":52},{"d":"2020/02/18","s":"NOx_EH","v":85},{"d":"2020/02/19","s":"NOx_EH","v":45},{"d":"2020/02/20","s":"NOx_EH","v":50},{"d":"2020/02/21","s":"NOx_EH","v":125},{"d":"2020/02/22","s":"NOx_EH","v":40},{"d":"2020/02/23","s":"NOx_EH","v":42},{"d":"2020/02/24","s":"NOx_EH","v":135},{"d":"2020/02/25","s":"NOx_EH","v":15},{"d":"2020/02/26","s":"NOx_EH","v":0},{"d":"2020/02/27","s":"NOx_EH","v":0},{"d":"2020/02/28","s":"NOx_EH","v":0},{"d":"2020/02/29","s":"NOx_EH","v":0},
{"d":"2020/03/01","s":"NOx_EH","v":0},{"d":"2020/03/02","s":"NOx_EH","v":0},{"d":"2020/03/03","s":"NOx_EH","v":129},{"d":"2020/03/04","s":"NOx_EH","v":103},{"d":"2020/03/05","s":"NOx_EH","v":142},{"d":"2020/03/06","s":"NOx_EH","v":60},{"d":"2020/03/07","s":"NOx_EH","v":42},{"d":"2020/03/08","s":"NOx_EH","v":42},{"d":"2020/03/09","s":"NOx_EH","v":75},{"d":"2020/03/10","s":"NOx_EH","v":53},{"d":"2020/03/11","s":"NOx_EH","v":134},{"d":"2020/03/12","s":"NOx_EH","v":83},{"d":"2020/03/13","s":"NOx_EH","v":42},{"d":"2020/03/14","s":"NOx_EH","v":36},{"d":"2020/03/15","s":"NOx_EH","v":8},{"d":"2020/03/16","s":"NOx_EH","v":84},{"d":"2020/03/17","s":"NOx_EH","v":50},{"d":"2020/03/18","s":"NOx_EH","v":101},{"d":"2020/03/19","s":"NOx_EH","v":125},{"d":"2020/03/20","s":"NOx_EH","v":38},{"d":"2020/03/21","s":"NOx_EH","v":15},{"d":"2020/03/22","s":"NOx_EH","v":28},{"d":"2020/03/23","s":"NOx_EH","v":39},{"d":"2020/03/24","s":"NOx_EH","v":81},{"d":"2020/03/25","s":"NOx_EH","v":47},{"d":"2020/03/26","s":"NOx_EH","v":71},{"d":"2020/03/27","s":"NOx_EH","v":39},{"d":"2020/03/28","s":"NOx_EH","v":27},{"d":"2020/03/29","s":"NOx_EH","v":24},{"d":"2020/03/30","s":"NOx_EH","v":0},{"d":"2020/03/31","s":"NOx_EH","v":23},
{"d":"2020/04/01","s":"NOx_EH","v":47},{"d":"2020/04/02","s":"NOx_EH","v":55},{"d":"2020/04/03","s":"NOx_EH","v":74},{"d":"2020/04/04","s":"NOx_EH","v":45},{"d":"2020/04/05","s":"NOx_EH","v":25},{"d":"2020/04/06","s":"NOx_EH","v":91},{"d":"2020/04/07","s":"NOx_EH","v":77},{"d":"2020/04/08","s":"NOx_EH","v":18},{"d":"2020/04/09","s":"NOx_EH","v":13},{"d":"2020/04/10","s":"NOx_EH","v":10},{"d":"2020/04/11","s":"NOx_EH","v":47},{"d":"2020/04/12","s":"NOx_EH","v":12},{"d":"2020/04/13","s":"NOx_EH","v":45},{"d":"2020/04/14","s":"NOx_EH","v":72},{"d":"2020/04/15","s":"NOx_EH","v":90}
],
"lines":[
{"d":"2020/01/01","s":"Running Median","v":38},{"d":"2020/01/02","s":"Running Median","v":38},{"d":"2020/01/03","s":"Running Median","v":37},{"d":"2020/01/04","s":"Running Median","v":37},{"d":"2020/01/05","s":"Running Median","v":36},{"d":"2020/01/06","s":"Running Median","v":37},{"d":"2020/01/07","s":"Running Median","v":48},{"d":"2020/01/08","s":"Running Median","v":49},{"d":"2020/01/09","s":"Running Median","v":49},{"d":"2020/01/10","s":"Running Median","v":49},{"d":"2020/01/11","s":"Running Median","v":48},{"d":"2020/01/12","s":"Running Median","v":48},{"d":"2020/01/13","s":"Running Median","v":50},{"d":"2020/01/14","s":"Running Median","v":51},{"d":"2020/01/15","s":"Running Median","v":52},{"d":"2020/01/16","s":"Running Median","v":56},{"d":"2020/01/17","s":"Running Median","v":56},{"d":"2020/01/18","s":"Running Median","v":54},{"d":"2020/01/19","s":"Running Median","v":49},{"d":"2020/01/20","s":"Running Median","v":49},{"d":"2020/01/21","s":"Running Median","v":49},{"d":"2020/01/22","s":"Running Median","v":49},{"d":"2020/01/23","s":"Running Median","v":48},{"d":"2020/01/24","s":"Running Median","v":47},{"d":"2020/01/25","s":"Running Median","v":46},{"d":"2020/01/26","s":"Running Median","v":42},{"d":"2020/01/27","s":"Running Median","v":42},{"d":"2020/01/28","s":"Running Median","v":46},{"d":"2020/01/29","s":"Running Median","v":46},{"d":"2020/01/30","s":"Running Median","v":47},{"d":"2020/01/31","s":"Running Median","v":47},
{"d":"2020/02/01","s":"Running Median","v":46},{"d":"2020/02/02","s":"Running Median","v":45},{"d":"2020/02/03","s":"Running Median","v":45},{"d":"2020/02/04","s":"Running Median","v":42},{"d":"2020/02/05","s":"Running Median","v":41},{"d":"2020/02/06","s":"Running Median","v":41},{"d":"2020/02/07","s":"Running Median","v":41},{"d":"2020/02/08","s":"Running Median","v":41},{"d":"2020/02/09","s":"Running Median","v":41},{"d":"2020/02/10","s":"Running Median","v":41},{"d":"2020/02/11","s":"Running Median","v":40},{"d":"2020/02/12","s":"Running Median","v":40},{"d":"2020/02/13","s":"Running Median","v":40},{"d":"2020/02/14","s":"Running Median","v":39},{"d":"2020/02/15","s":"Running Median","v":39},{"d":"2020/02/16","s":"Running Median","v":39},{"d":"2020/02/17","s":"Running Median","v":38},{"d":"2020/02/18","s":"Running Median","v":38},{"d":"2020/02/19","s":"Running Median","v":37},{"d":"2020/02/20","s":"Running Median","v":37},{"d":"2020/02/21","s":"Running Median","v":36},{"d":"2020/02/22","s":"Running Median","v":36},{"d":"2020/02/23","s":"Running Median","v":36},{"d":"2020/02/24","s":"Running Median","v":40},{"d":"2020/02/25","s":"Running Median","v":45},{"d":"2020/02/26","s":"Running Median","v":47},{"d":"2020/02/27","s":"Running Median","v":48},{"d":"2020/02/28","s":"Running Median","v":47},{"d":"2020/02/29","s":"Running Median","v":47},
{"d":"2020/03/01","s":"Running Median","v":47},{"d":"2020/03/02","s":"Running Median","v":47},{"d":"2020/03/03","s":"Running Median","v":48},{"d":"2020/03/04","s":"Running Median","v":49},{"d":"2020/03/05","s":"Running Median","v":48},{"d":"2020/03/06","s":"Running Median","v":47},{"d":"2020/03/07","s":"Running Median","v":47},{"d":"2020/03/08","s":"Running Median","v":46},{"d":"2020/03/09","s":"Running Median","v":46},{"d":"2020/03/10","s":"Running Median","v":52},{"d":"2020/03/11","s":"Running Median","v":53},{"d":"2020/03/12","s":"Running Median","v":53},{"d":"2020/03/13","s":"Running Median","v":50},{"d":"2020/03/14","s":"Running Median","v":45},{"d":"2020/03/15","s":"Running Median","v":40},{"d":"2020/03/16","s":"Running Median","v":37},{"d":"2020/03/17","s":"Running Median","v":36},{"d":"2020/03/18","s":"Running Median","v":36},{"d":"2020/03/19","s":"Running Median","v":36},{"d":"2020/03/20","s":"Running Median","v":36},{"d":"2020/03/21","s":"Running Median","v":35},{"d":"2020/03/22","s":"Running Median","v":25},{"d":"2020/03/23","s":"Running Median","v":3},

{"d":"2020/01/01","s":"Median","v":27},{"d":"2020/01/02","s":"Median","v":31},{"d":"2020/01/03","s":"Median","v":40},{"d":"2020/01/04","s":"Median","v":16},{"d":"2020/01/05","s":"Median","v":16},{"d":"2020/01/06","s":"Median","v":23},{"d":"2020/01/07","s":"Median","v":63},{"d":"2020/01/08","s":"Median","v":63},{"d":"2020/01/09","s":"Median","v":68},{"d":"2020/01/10","s":"Median","v":44},{"d":"2020/01/11","s":"Median","v":44},{"d":"2020/01/12","s":"Median","v":36},{"d":"2020/01/13","s":"Median","v":61},{"d":"2020/01/14","s":"Median","v":40},{"d":"2020/01/15","s":"Median","v":170},{"d":"2020/01/16","s":"Median","v":16},{"d":"2020/01/17","s":"Median","v":36},{"d":"2020/01/18","s":"Median","v":23},{"d":"2020/01/19","s":"Median","v":38},{"d":"2020/01/20","s":"Median","v":61},{"d":"2020/01/21","s":"Median","v":53},{"d":"2020/01/22","s":"Median","v":46},{"d":"2020/01/23","s":"Median","v":70},{"d":"2020/01/24","s":"Median","v":55},{"d":"2020/01/25","s":"Median","v":27},{"d":"2020/01/26","s":"Median","v":36},{"d":"2020/01/27","s":"Median","v":31},{"d":"2020/01/28","s":"Median","v":27},{"d":"2020/01/29","s":"Median","v":36},{"d":"2020/01/30","s":"Median","v":48},{"d":"2020/01/31","s":"Median","v":44},
{"d":"2020/02/01","s":"Median","v":53},{"d":"2020/02/02","s":"Median","v":14},{"d":"2020/02/03","s":"Median","v":110},{"d":"2020/02/04","s":"Median","v":16},{"d":"2020/02/05","s":"Median","v":27},{"d":"2020/02/06","s":"Median","v":36},{"d":"2020/02/07","s":"Median","v":44},{"d":"2020/02/08","s":"Median","v":42},{"d":"2020/02/09","s":"Median","v":40},{"d":"2020/02/10","s":"Median","v":57},{"d":"2020/02/11","s":"Median","v":44},{"d":"2020/02/12","s":"Median","v":40},{"d":"2020/02/13","s":"Median","v":44},{"d":"2020/02/14","s":"Median","v":40},{"d":"2020/02/15","s":"Median","v":31},{"d":"2020/02/16","s":"Median","v":36},{"d":"2020/02/17","s":"Median","v":53},{"d":"2020/02/18","s":"Median","v":31},{"d":"2020/02/19","s":"Median","v":38},{"d":"2020/02/20","s":"Median","v":40},{"d":"2020/02/21","s":"Median","v":31},{"d":"2020/02/22","s":"Median","v":27},{"d":"2020/02/23","s":"Median","v":27},{"d":"2020/02/24","s":"Median","v":74},{"d":"2020/02/25","s":"Median","v":31},{"d":"2020/02/26","s":"Median","v":16},{"d":"2020/02/27","s":"Median","v":14},{"d":"2020/02/28","s":"Median","v":16},{"d":"2020/02/29","s":"Median","v":23},
{"d":"2020/03/01","s":"Median","v":31},{"d":"2020/03/02","s":"Median","v":33},{"d":"2020/03/03","s":"Median","v":224},{"d":"2020/03/04","s":"Median","v":44},{"d":"2020/03/05","s":"Median","v":83},{"d":"2020/03/06","s":"Median","v":38},{"d":"2020/03/07","s":"Median","v":36},{"d":"2020/03/08","s":"Median","v":33},{"d":"2020/03/09","s":"Median","v":29},{"d":"2020/03/10","s":"Median","v":31},{"d":"2020/03/11","s":"Median","v":55},{"d":"2020/03/12","s":"Median","v":50},{"d":"2020/03/13","s":"Median","v":38},{"d":"2020/03/14","s":"Median","v":31},{"d":"2020/03/15","s":"Median","v":14},{"d":"2020/03/16","s":"Median","v":50},{"d":"2020/03/17","s":"Median","v":38},{"d":"2020/03/18","s":"Median","v":68},{"d":"2020/03/19","s":"Median","v":57},{"d":"2020/03/20","s":"Median","v":16},{"d":"2020/03/21","s":"Median","v":10},{"d":"2020/03/22","s":"Median","v":27},{"d":"2020/03/23","s":"Median","v":36},{"d":"2020/03/24","s":"Median","v":27},{"d":"2020/03/25","s":"Median","v":63},{"d":"2020/03/26","s":"Median","v":31},{"d":"2020/03/27","s":"Median","v":14},{"d":"2020/03/28","s":"Median","v":16},{"d":"2020/03/29","s":"Median","v":14},{"d":"2020/03/30","s":"Median","v":1},{"d":"2020/03/31","s":"Median","v":25},
{"d":"2020/04/01","s":"Median","v":38},{"d":"2020/04/02","s":"Median","v":48},{"d":"2020/04/03","s":"Median","v":132},{"d":"2020/04/04","s":"Median","v":68},{"d":"2020/04/05","s":"Median","v":25},{"d":"2020/04/06","s":"Median","v":141},{"d":"2020/04/07","s":"Median","v":38},{"d":"2020/04/08","s":"Median","v":29},{"d":"2020/04/09","s":"Median","v":14},{"d":"2020/04/10","s":"Median","v":14},{"d":"2020/04/11","s":"Median","v":23},{"d":"2020/04/12","s":"Median","v":21},{"d":"2020/04/13","s":"Median","v":25},{"d":"2020/04/14","s":"Median","v":27},{"d":"2020/04/15","s":"Median","v":29}
],
"weeks":[
{"w":"1-1-20","lo":13,"q1":17.4,"med":27.7,"q3":52.8,"hi":76.4,"mn":12,"mx":153.8},
{"w":"1-8-20","lo":27,"q1":36.6,"med":54.2,"q3":68,"hi":86,"mn":22,"mx":151.4},
{"w":"1-15-20","lo":18,"q1":26.3,"med":39,"q3":62,"hi":165.6,"mn":13.5,"mx":242},
{"w":"1-22-20","lo":21.7,"q1":26.3,"med":39,"q3":64.4,"hi":100.3,"mn":15,"mx":208},
{"w":"1-29-20","lo":18,"q1":23.9,"med":41.7,"q3":60.5,"hi":116.7,"mn":16,"mx":148.7},
{"w":"2-5-20","lo":23.4,"q1":31.3,"med":37.8,"q3":46.8,"hi":63.6,"mn":16,"mx":117},
{"w":"2-12-20","lo":28.4,"q1":32.8,"med":45.3,"q3":55.7,"hi":80,"mn":25,"mx":121},
{"w":"2-19-20","lo":19.8,"q1":23.9,"med":35.4,"q3":53,"hi":110.4,"mn":15,"mx":212},
{"w":"2-26-20","lo":15.7,"q1":16.2,"med":28.2,"q3":33,"hi":227,"mn":12,"mx":270},
{"w":"3-4-20","lo":24.6,"q1":28.7,"med":40.3,"q3":54.2,"hi":86,"mn":18.6,"mx":143.4},
{"w":"3-11-20","lo":17,"q1":26.3,"med":39,"q3":51.8,"hi":74.7,"mn":13.7,"mx":136.2},
{"w":"3-18-20","lo":13.3,"q1":16.2,"med":36.6,"q3":49.4,"hi":73.5,"mn":9,"mx":125.8},
{"w":"3-25-20","lo":13.3,"q1":16.2,"med":25.3,"q3":36.6,"hi":67.3,"mn":11.3,"mx":83.2},
{"w":"4-1-20","lo":23.4,"q1":31.3,"med":52.8,"q3":84.4,"hi":142.7,"mn":12,"mx":177.7},
{"w":"4-8-20","lo":8.9,"q1":12.5,"med":20.3,"q3":25,"hi":37.8,"mn":6.5,"mx":73.3},
{"w":"4-15-20","lo":23.4,"q1":24.1,"med":30.1,"q3":39,"hi":70.9,"mn":22.7,"mx":92}
]
},
"vconcat":[
{
 "width":830,"height":390,
 "layer":[
  {
   "data":{"name":"lines"},
   "mark":{"type":"line","strokeWidth":4.5},
   "encoding":{
    "x":{"field":"d","type":"temporal","scale":{"domain":[{"year":2020,"month":1,"date":1},{"year":2020,"month":4,"date":15}],"nice":false},
     "axis":{"values":[{"year":2020,"month":1,"date":1},{"year":2020,"month":1,"date":8},{"year":2020,"month":1,"date":15},{"year":2020,"month":1,"date":22},{"year":2020,"month":1,"date":29},{"year":2020,"month":2,"date":5},{"year":2020,"month":2,"date":12},{"year":2020,"month":2,"date":19},{"year":2020,"month":2,"date":26},{"year":2020,"month":3,"date":4},{"year":2020,"month":3,"date":11},{"year":2020,"month":3,"date":18},{"year":2020,"month":3,"date":25},{"year":2020,"month":4,"date":1},{"year":2020,"month":4,"date":8},{"year":2020,"month":4,"date":15}],
      "format":"%-m/%-d/%y","labelAngle":270,"labelFont":"DejaVu Sans","labelFontWeight":"bold","labelFontSize":20,"tickSize":6,"tickWidth":1.5,"labelPadding":5,"domain":false,"grid":false,"title":null,"labelOverlap":false}},
    "y":{"field":"v","type":"quantitative","scale":{"domain":[0,250],"nice":false},
     "axis":{"orient":"left","values":[0,10,20,30,40,50,60,70,80,90,100,110,120,130,140,150,160,170,180,190,200,210,220,230,240,250],"tickSize":5,"tickWidth":1.5,"labels":false,"domain":false,"grid":false,"title":null}},
    "color":{"field":"s","type":"nominal","scale":{"domain":["Median","Running Median"],"range":["#FF00FF","#FF0000"]},
     "legend":{"orient":"none","legendX":77,"legendY":87,"columns":2,"gridAlign":"all","columnPadding":56,"title":null,"symbolType":"stroke","symbolSize":2500,"symbolStrokeWidth":4.5,"labelFont":"Lato","labelFontSize":18,"labelColor":"#222222","labelOffset":8,"labelLimit":300}},
    "strokeDash":{"field":"s","type":"nominal","scale":{"domain":["Median","Running Median"],"range":[[1,0],[14,8]]},
     "legend":{"orient":"none","legendX":77,"legendY":87,"columns":2,"gridAlign":"all","columnPadding":56,"title":null,"symbolType":"stroke","symbolSize":2500,"symbolStrokeWidth":4.5,"labelFont":"Lato","labelFontSize":18,"labelColor":"#222222","labelOffset":8,"labelLimit":300}}
   }
  },
  {
   "data":{"name":"pts"},
   "mark":{"type":"circle","size":120,"opacity":1},
   "encoding":{
    "x":{"field":"d","type":"temporal"},
    "y":{"field":"v","type":"quantitative","axis":{"orient":"left","values":[0,50,100,150,200,250],"tickSize":9,"tickWidth":2,"labelFontSize":23,"labelPadding":14,"domainWidth":3,"grid":true,"gridDash":[7,5],"gridColor":"#ABABAB","gridWidth":1.5,"title":"Concentration","titleFontSize":27,"titleFontWeight":"bold","titlePadding":12}},
    "color":{"field":"s","type":"nominal",
     "scale":{"domain":["NOx_AP","NOx_M-E","NOx_TRIN","NOx_MP","NOx_M-N","NOx_M-S","NOx_SWHS","NOx_DB","NOx_M-W","NOx_NMH","NOx_DP4","NOx_EH"],
      "range":["#4F81BD","#8064A2","#2C4D75","#4D3B62","#C0504D","#4BACC6","#772C2A","#276A7C","#9BBB59","#F79646","#5F7530","#B65708"]},
     "legend":{"orient":"none","legendX":99,"legendY":13,"columns":3,"gridAlign":"all","columnPadding":115,"rowPadding":5.5,"title":null,"symbolType":"circle","symbolSize":130,"labelFont":"Lato","labelFontSize":18,"labelColor":"#222222","labelOffset":22,"labelLimit":300}}
   }
  },
  {
   "data":{"values":[{}]},
   "mark":{"type":"text","align":"left","baseline":"middle","font":"Lato","fontSize":26,"fontWeight":"bold","color":"black","dx":1},
   "encoding":{"x":{"datum":{"year":2020,"month":1,"date":1},"type":"temporal"},"y":{"datum":229,"type":"quantitative","axis":null},"text":{"value":"Daily"}}
  }
 ],
 "resolve":{"scale":{"color":"independent","strokeDash":"independent"},"axis":{"y":"independent"}}
},
{
 "width":840,"height":346,
 "data":{"name":"weeks"},
 "layer":[
  {
   "mark":{"type":"line","color":"#00B050","strokeWidth":3,"strokeDash":[10,7]},
   "encoding":{
    "x":{"field":"w","type":"ordinal","sort":null,"scale":{"paddingInner":0,"paddingOuter":0},"axis":{"labelAngle":270,"labelFont":"DejaVu Sans","labelFontWeight":"bold","labelFontSize":18,"ticks":false,"labelPadding":10,"domainWidth":2.5,"title":null}},
    "y":{"field":"mn","type":"quantitative","scale":{"domain":[0,250],"nice":false},
     "axis":{"orient":"left","values":[0,10,20,30,40,50,60,70,80,90,100,110,120,130,140,150,160,170,180,190,200,210,220,230,240,250],"tickSize":5,"tickWidth":1.5,"labels":false,"domain":false,"grid":false,"title":null}}
   }
  },
  {
   "mark":{"type":"line","color":"#FF6600","strokeWidth":3.5,"strokeDash":[0.5,7.5],"strokeCap":"round","clip":true},
   "encoding":{"x":{"field":"w","type":"ordinal","sort":null},"y":{"field":"mx","type":"quantitative","axis":null}}
  },
  {
   "mark":{"type":"line","color":"#FF0000","strokeWidth":4.5,"strokeDash":[0.5,10],"strokeCap":"round"},
   "encoding":{"x":{"field":"w","type":"ordinal","sort":null},"y":{"field":"med","type":"quantitative","axis":null}}
  },
  {
   "mark":{"type":"rule","color":"#0000CC","strokeWidth":3},
   "encoding":{"x":{"field":"w","type":"ordinal","sort":null},"y":{"field":"lo","type":"quantitative","axis":null},"y2":{"field":"hi"}}
  },
  {
   "mark":{"type":"bar","filled":false,"color":"#0000CC","strokeWidth":3,"size":21},
   "encoding":{"x":{"field":"w","type":"ordinal","sort":null},
    "y":{"field":"q1","type":"quantitative","axis":{"orient":"left","values":[0,50,100,150,200,250],"tickSize":9,"tickWidth":2,"labelFontSize":23,"labelPadding":14,"domainWidth":3,"grid":true,"gridDash":[6,4],"gridColor":"#888888","gridWidth":1.5,"title":"Concentration","titleFontSize":27,"titleFontWeight":"bold","titlePadding":12}},
    "y2":{"field":"q3"}}
  },
  {
   "mark":{"type":"tick","color":"#0000CC","thickness":4,"size":13,"opacity":1},
   "encoding":{"x":{"field":"w","type":"ordinal","sort":null},"y":{"field":"hi","type":"quantitative","axis":null}}
  },
  {
   "mark":{"type":"tick","color":"#0000CC","thickness":4,"size":13,"opacity":1},
   "encoding":{"x":{"field":"w","type":"ordinal","sort":null},"y":{"field":"lo","type":"quantitative","axis":null}}
  },
  {
   "mark":{"type":"tick","color":"#FF0000","thickness":5,"size":22,"opacity":1},
   "encoding":{"x":{"field":"w","type":"ordinal","sort":null},"y":{"field":"med","type":"quantitative","axis":null}}
  },
  {
   "mark":{"type":"point","shape":"circle","filled":true,"fill":"#C0504D","stroke":"#FF7010","strokeWidth":2,"size":100,"opacity":1,"clip":true},
   "encoding":{"x":{"field":"w","type":"ordinal","sort":null},"y":{"field":"mx","type":"quantitative","axis":null}}
  },
  {
   "mark":{"type":"point","shape":"triangle-up","filled":true,"fill":"#3F7FBF","stroke":"#12B2EE","strokeWidth":2,"size":110,"opacity":1},
   "encoding":{"x":{"field":"w","type":"ordinal","sort":null},"y":{"field":"mn","type":"quantitative","axis":null}}
  },
  {
   "data":{"values":[{}]},
   "mark":{"type":"text","align":"left","baseline":"middle","font":"Lato","fontSize":26,"fontWeight":"bold","color":"black","dx":-7},
   "encoding":{"x":{"datum":"1-1-20","type":"ordinal"},"y":{"datum":230,"type":"quantitative","axis":null},"text":{"value":"Weekly"}}
  }
 ],
 "resolve":{"axis":{"y":"independent"}}
}
]
}
